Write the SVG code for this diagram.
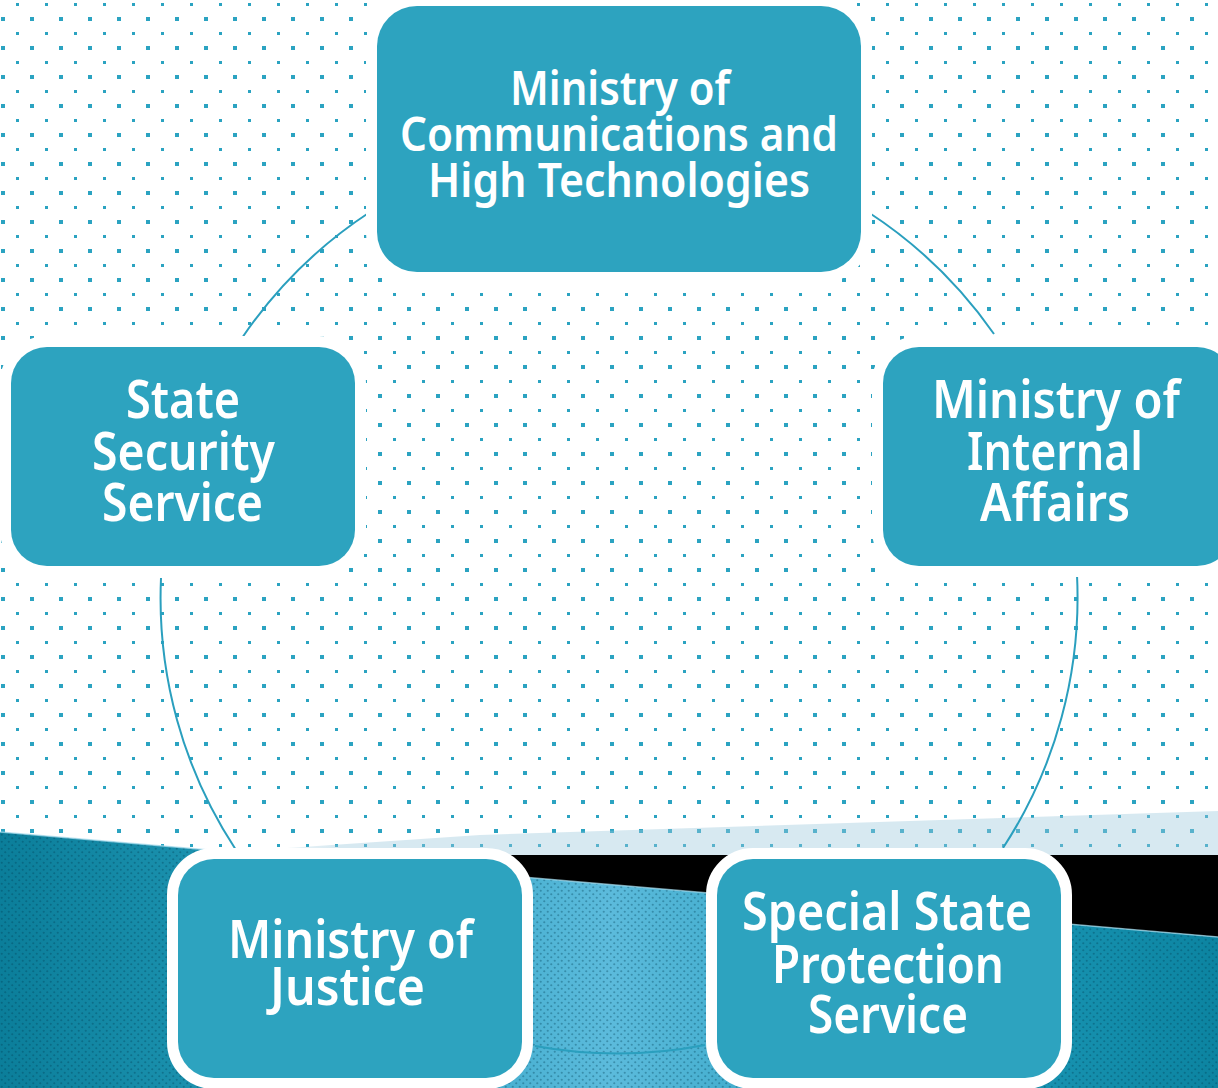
<svg xmlns="http://www.w3.org/2000/svg" width="1218" height="1088" viewBox="0 0 1218 1088">
<defs>
<pattern id="dots" x="0" y="0" width="29" height="29" patternUnits="userSpaceOnUse">
<rect x="1" y="17" width="4" height="4" fill="#2ba3c1"/>
<rect x="16" y="3" width="3" height="3" fill="#2ba3c1"/>
</pattern>
<pattern id="tex" x="0" y="0" width="7" height="7" patternUnits="userSpaceOnUse">
<circle cx="1.75" cy="1.75" r="1.1" fill="#003f55" fill-opacity="0.35"/>
<circle cx="5.25" cy="5.25" r="1.1" fill="#003f55" fill-opacity="0.35"/>
</pattern>
<linearGradient id="teal" x1="0" y1="0" x2="1218" y2="0" gradientUnits="userSpaceOnUse">
<stop offset="0" stop-color="#0b7e9a"/>
<stop offset="0.15" stop-color="#1a90ad"/>
<stop offset="0.35" stop-color="#3aa9c9"/>
<stop offset="0.5" stop-color="#5cbbdc"/>
<stop offset="0.65" stop-color="#3aa9c9"/>
<stop offset="0.85" stop-color="#1893b1"/>
<stop offset="1" stop-color="#0c84a1"/>
</linearGradient>
<linearGradient id="band" x1="230" y1="0" x2="600" y2="0" gradientUnits="userSpaceOnUse">
<stop offset="0" stop-color="#9bc8dc" stop-opacity="0"/>
<stop offset="0.3" stop-color="#9bc8dc" stop-opacity="0.4"/>
<stop offset="1" stop-color="#9bc8dc" stop-opacity="0.4"/>
</linearGradient>
</defs>
<style>
.box{fill:#2da3bf;stroke:#ffffff;stroke-width:22;paint-order:stroke}
.lbl{fill:#ffffff;font-family:"Noto Sans","DejaVu Sans",sans-serif;font-weight:600}
.t46{font-size:46px}
.t52{font-size:52px}
.arc{fill:none;stroke:#2a9fbe;stroke-width:2}
</style>
<rect width="1218" height="1088" fill="#ffffff"/>
<rect width="1218" height="1088" fill="url(#dots)"/>
<polygon points="230,852 480,835 1218,811 1218,855 230,855" fill="url(#band)"/>
<polygon points="260,855 1218,855 1218,937" fill="#000000"/>
<polygon points="0,832 1218,937 1218,1088 0,1088" fill="url(#teal)"/>
<polygon points="0,832 1218,937 1218,1088 0,1088" fill="url(#tex)"/>
<line x1="0" y1="832" x2="1218" y2="937" stroke="#a8dcec" stroke-width="1.5" stroke-opacity="0.7"/>
<g id="connectors">
<path class="arc" d="M 242 338 A 458 458 0 0 1 370 212"/>
<path class="arc" d="M 868 212 A 458 458 0 0 1 994 334"/>
<path class="arc" d="M 1077 575 A 458 458 0 0 1 1003 848"/>
<path class="arc" d="M 705 1045 A 458 458 0 0 1 535 1046"/>
<path class="arc" d="M 236 850 A 458 458 0 0 1 161 578"/>
</g>
<g id="node-mcht">
<rect class="box" x="377" y="6" width="484" height="266" rx="40"/>
<text class="lbl t46" x="510" y="105" textLength="220" lengthAdjust="spacingAndGlyphs">Ministry of</text>
<text class="lbl t46" x="400" y="151" textLength="438" lengthAdjust="spacingAndGlyphs">Communications and</text>
<text class="lbl t46" x="428" y="197" textLength="382" lengthAdjust="spacingAndGlyphs">High Technologies</text>
</g>
<g id="node-sss">
<rect class="box" x="11" y="347" width="344" height="219" rx="36"/>
<text class="lbl t52" x="126" y="418" textLength="114" lengthAdjust="spacingAndGlyphs">State</text>
<text class="lbl t52" x="92" y="470" textLength="183" lengthAdjust="spacingAndGlyphs">Security</text>
<text class="lbl t52" x="102" y="521" textLength="161" lengthAdjust="spacingAndGlyphs">Service</text>
</g>
<g id="node-mia">
<rect class="box" x="883" y="347" width="350" height="219" rx="36"/>
<text class="lbl t52" x="932" y="418" textLength="248" lengthAdjust="spacingAndGlyphs">Ministry of</text>
<text class="lbl t52" x="967" y="470" textLength="176" lengthAdjust="spacingAndGlyphs">Internal</text>
<text class="lbl t52" x="980" y="521" textLength="150" lengthAdjust="spacingAndGlyphs">Affairs</text>
</g>
<g id="node-moj">
<rect class="box" x="178" y="859" width="344" height="219" rx="36"/>
<text class="lbl t52" x="228" y="958" textLength="245" lengthAdjust="spacingAndGlyphs">Ministry of</text>
<text class="lbl t52" x="270" y="1005" textLength="155" lengthAdjust="spacingAndGlyphs">Justice</text>
</g>
<g id="node-ssps">
<rect class="box" x="717" y="859" width="344" height="219" rx="36"/>
<text class="lbl t52" x="742" y="930" textLength="290" lengthAdjust="spacingAndGlyphs">Special State</text>
<text class="lbl t52" x="772" y="983" textLength="232" lengthAdjust="spacingAndGlyphs">Protection</text>
<text class="lbl t52" x="808" y="1033" textLength="160" lengthAdjust="spacingAndGlyphs">Service</text>
</g>
</svg>
